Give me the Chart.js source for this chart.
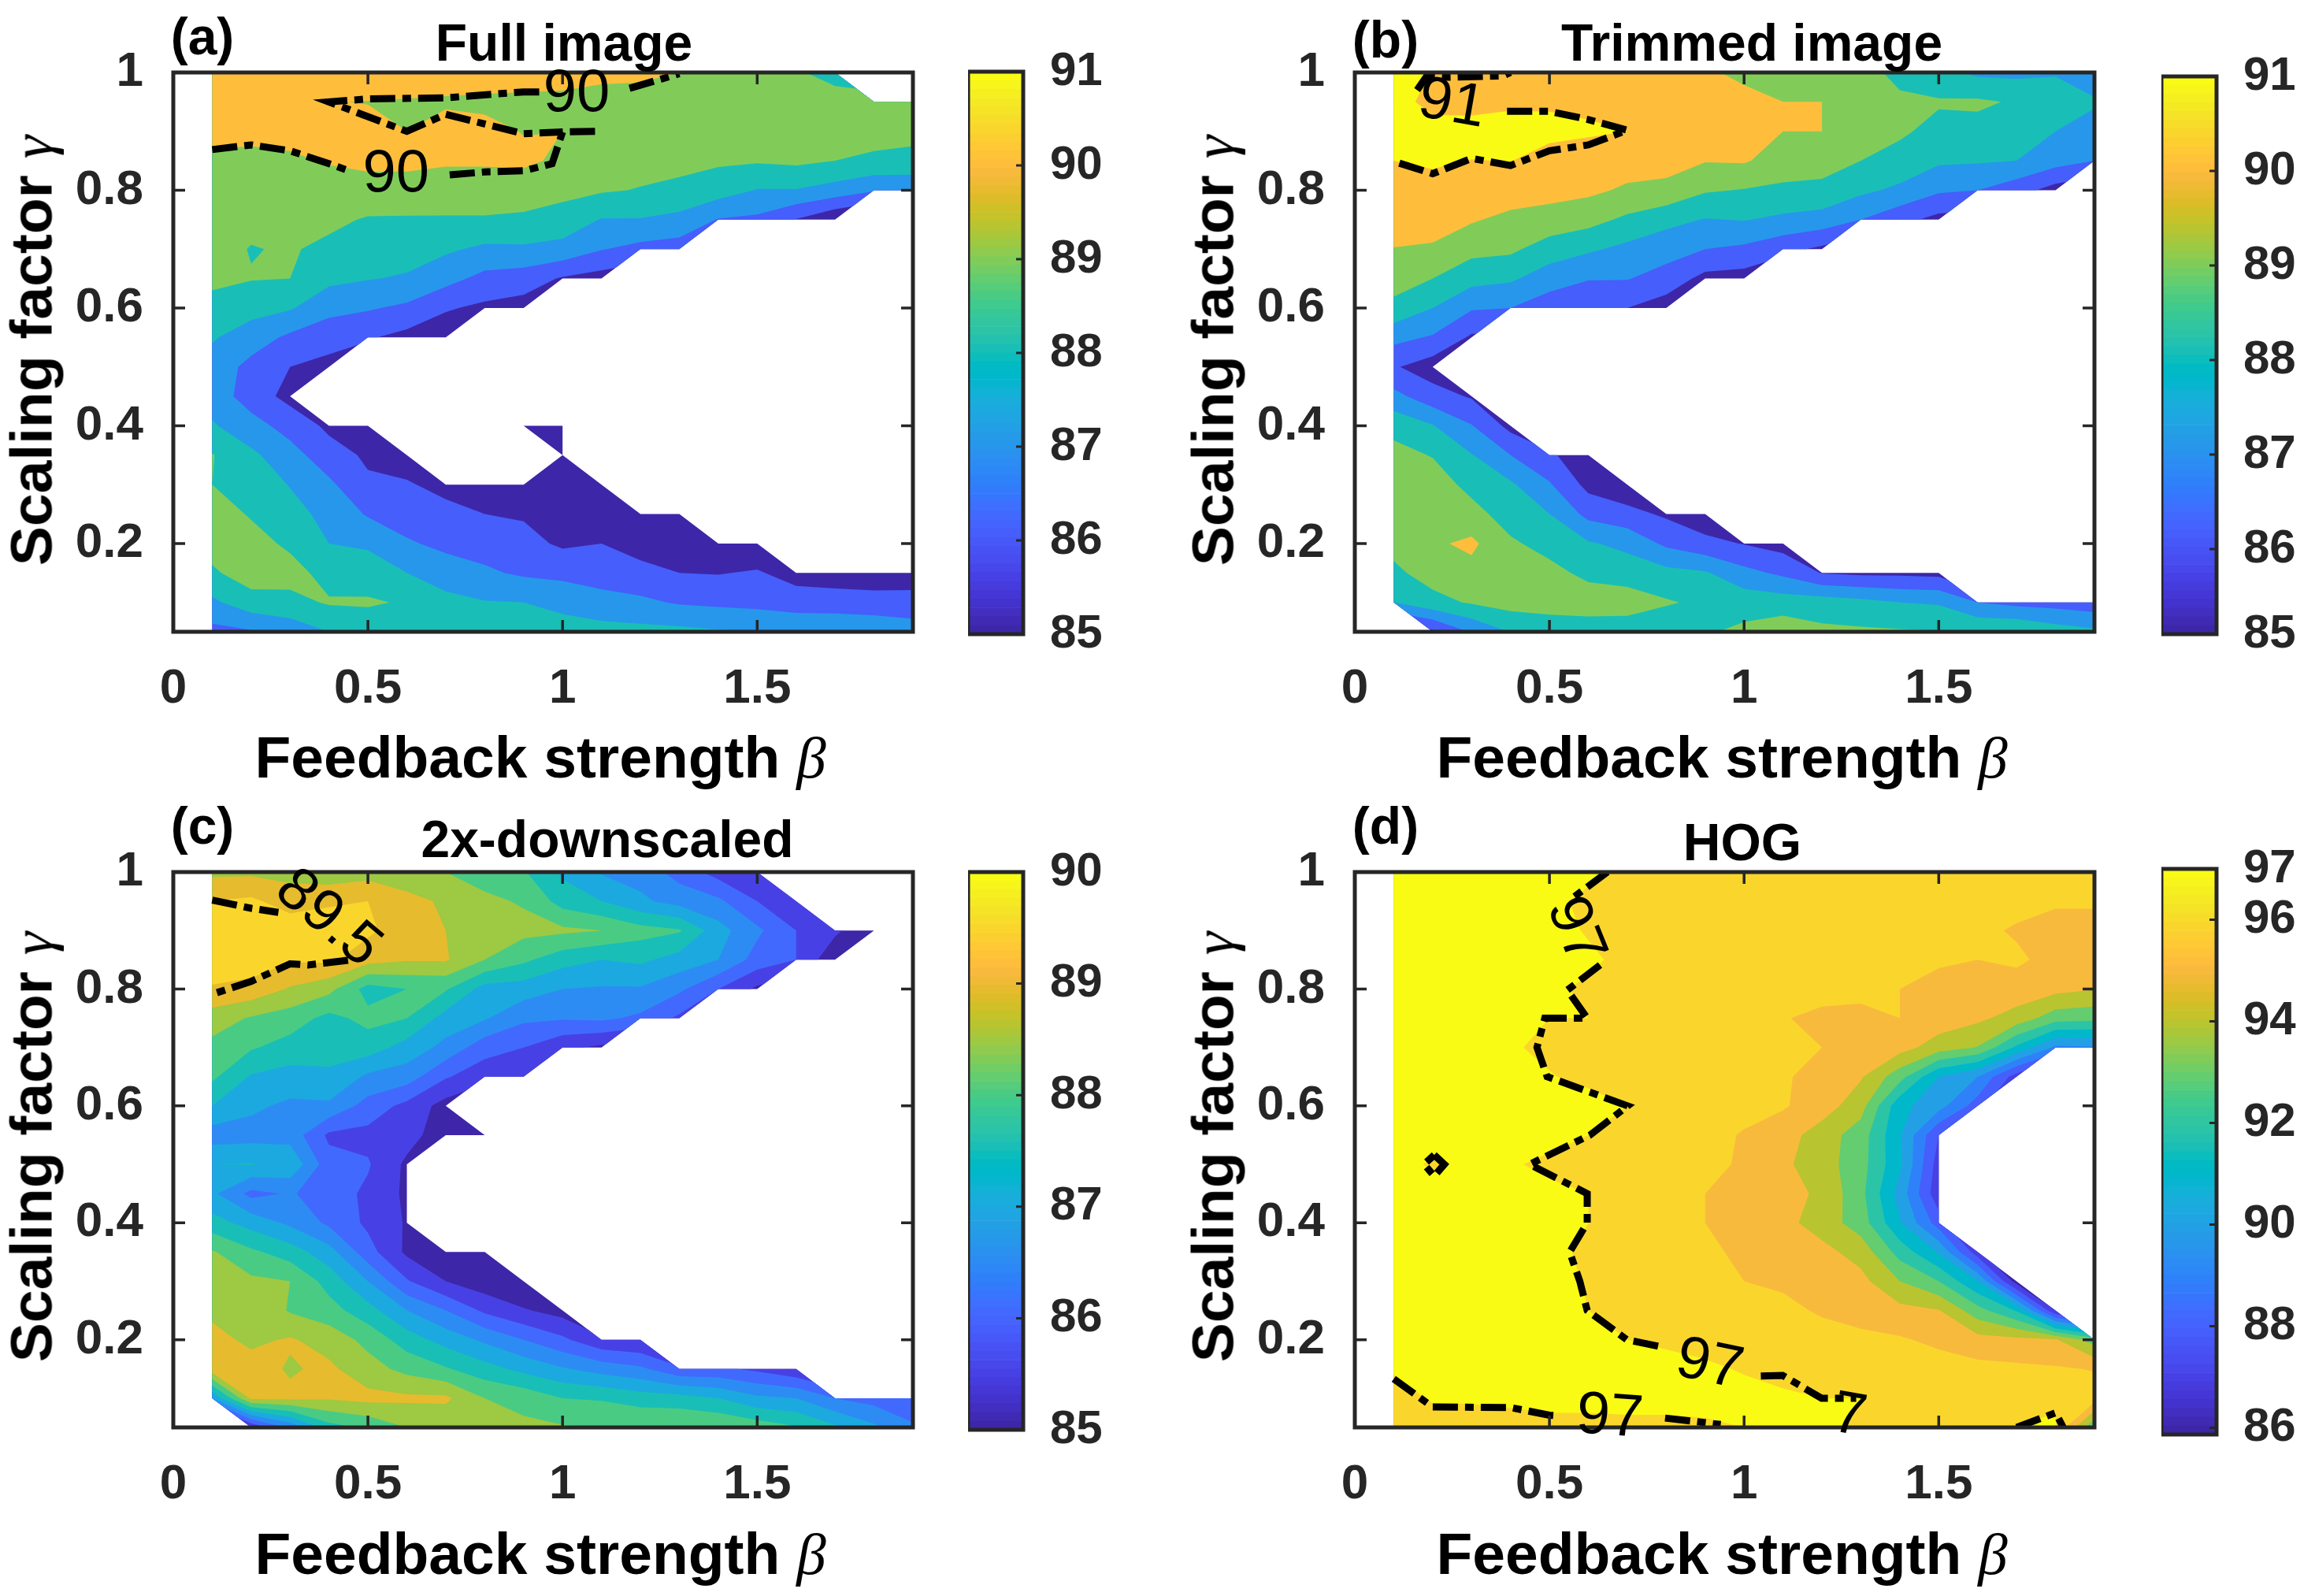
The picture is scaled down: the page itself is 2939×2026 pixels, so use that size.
<!DOCTYPE html>
<html>
<head>
<meta charset="utf-8">
<title>Contour panels</title>
<script src="https://cdn.jsdelivr.net/npm/chart.js@4"></script>
<style>
  html, body { margin: 0; padding: 0; background: #fff; }
  #page { position: relative; width: 2939px; height: 2026px; overflow: hidden; }
  #page canvas { position: absolute; }
  .txt { position: absolute; white-space: nowrap; line-height: 1; transform: translate(-50%, -50%);
         font-family: "Liberation Sans", Arial, sans-serif; font-weight: bold; }
  .txt i { font-family: "Liberation Serif", serif; font-weight: normal; }
</style>
</head>
<body>
<div id="page"></div>
<script>
// grid of the runs, rows go from gamma = 1 down to 0.05
const betaVals = [0.1,0.2,0.3,0.4,0.5,0.6,0.7,0.8,0.9,1,1.1,1.2,1.3,1.4,1.5,1.6,1.7,1.8,1.9];
const gammaVals = [1,0.95,0.9,0.85,0.8,0.75,0.7,0.65,0.6,0.55,0.5,0.45,0.4,0.35,0.3,0.25,0.2,0.15,0.1,0.05];
const _ = null;

const fullImage = [
  [90.6,90.7,90.8,90.6,90.5,90.4,90.4,90.4,90.4,90.4,90.2,90.2,90.0,89.6,89.5,89.1,88.7],
  [90.4,90.5,90.6,90.02,89.98,89.95,89.9,89.85,89.8,89.75,89.7,89.6,89.5,89.4,89.4,89.5,89.35,89.25,89.2],
  [90.15,90.15,90.2,90.3,90.2,90.0,90.3,90.2,89.97,90.0,89.99,89.55,89.5,89.4,89.3,89.4,89.35,89.3,89.2],
  [89.9,89.85,89.9,90.05,90.15,90.2,90.1,90.1,90.15,89.85,89.65,89.35,89.25,89.15,89.1,89.2,89.0,88.85,88.8],
  [89.7,89.6,89.65,89.7,89.75,89.65,89.6,89.6,89.55,89.3,89.1,88.95,88.8,88.45,87.95,87.95,87.6,87.1,87.1],
  [89.5,89.3,89.4,89.25,88.9,88.9,88.9,88.9,88.8,88.55,87.95,87.95,87.7,86.95,86.8,85.95,85.1],
  [89.4,88.95,89.1,88.75,88.5,88.4,88.15,87.8,87.85,87.7,87.05,86.7,86.55],
  [89.2,89.05,89.0,88.25,88.05,87.9,87.35,86.7,86.5,85.9,85.6],
  [88.7,88.35,88.1,87.3,87.1,86.8,86.1,85.8,85.6],
  [88.1,87.5,86.8,86.4,86.1,85.7,85.4],
  [87.6,86.7,86.0,85.7],
  [87.6,86.5,85.7],
  [88.1,87.4,86.6,85.8,85.6,_,_,_,85.4,85.3],
  [89.05,88.2,87.4,86.4,85.85,85.5,_,_,_,85.2],
  [89.0,88.6,87.95,87.2,86.15,86.1,85.7,85.6,85.3,85.3,85.2],
  [89.5,88.9,88.35,87.7,86.9,86.6,86.3,86.0,85.9,85.6,85.4,85.3,85.3],
  [89.4,89.4,88.8,88.0,87.85,87.1,86.8,86.6,86.3,85.85,86.0,85.6,85.5,85.3,85.2],
  [88.85,89.5,89.4,88.6,88.5,88.0,87.4,87.15,86.85,86.7,86.5,86.3,86.0,85.95,86.1,85.6,85.5,85.45,85.45],
  [87.8,88.6,88.7,89.1,89.12,88.9,88.35,88.05,88.0,87.8,87.4,87.2,86.9,86.8,86.7,86.5,86.45,86.37,86.4],
  [86.7,86.9,87.4,88.0,88.4,88.4,88.4,88.35,88.3,88.3,88.35,88.3,88.25,88.1,88.0,87.9,87.9,87.8,87.47]
];

const trimmedImage = [
  [91.6,90.95,90.8,90.9,90.9,90.8,90.6,90.3,90.1,89.85,89.65,89.5,89.2,88.85,88.3,87.8,87.75,87.9,87.5],
  [91.5,90.6,90.65,90.85,90.9,90.85,90.7,90.55,90.4,90.2,90,90,89.4,89.1,89.1,89.15,88.9,88.6,88.1],
  [91.5,91.5,91.4,91.35,91.2,91.1,91.0,90.8,90.6,90.3,90,90,89.4,89.15,88.7,88.7,88.6,88.0,87.65],
  [91.0,91.1,90.98,91.02,90.7,90.6,90.45,90.35,90.05,90.1,89.55,89.4,89.0,88.65,88.15,88.1,88.0,87.4,87.0],
  [90.7,90.75,90.6,90.5,90.3,90.2,89.85,89.75,89.1,88.95,88.8,88.75,88.2,87.8,87.15,87.0,86.4,85.6],
  [90.3,90.35,90.1,89.75,89.65,89.35,88.8,88.3,87.95,88.05,87.8,87.6,87.0,86.3,85.7],
  [89.98,89.9,89.3,89.2,88.5,88.15,87.75,87.4,87.0,86.8,86.3,85.8],
  [89.4,89.0,88.35,88.15,87.5,87.05,87.05,86.6,85.7,85.6],
  [88.75,88.0,87.1,87.0,86.4,86.3,86.0,85.5],
  [87.3,86.9,85.85],
  [86.1,85.5],
  [87.3,86.4,85.9],
  [88.7,88.05,87.05,85.7],
  [89.3,88.95,88.05,87.0,86.2,85.2],
  [89.5,89.5,88.7,88.15,87.1,85.7,85.3],
  [89.6,89.8,89.35,88.55,88.0,86.7,86.3,85.85,85.3],
  [89.3,89.85,90.2,89.15,88.65,88.1,87.75,86.8,86.3,85.95,85.6],
  [88.8,89.4,89.7,89.6,89.3,88.75,88.5,88.3,88.1,87.3,86.8,85.95,85.8,85.8,85.7],
  [88.0,88.7,89.1,89.4,89.5,89.55,89.55,89.1,88.8,88.6,88.5,88.5,88.3,88.0,87.9,87.0,86.7,86.6,86.4],
  [_,85.8,87.1,88.05,88.3,88.4,88.35,88.3,88.9,89.2,89.6,89.2,89.15,89.1,89.05,88.95,89.0,88.5,88.2]
];

const downscaled = [
  [88.9,88.9,88.85,88.7,88.8,88.6,88.5,88.3,88.05,87.4,86.95,86.8,86.3,85.8,85.5],
  [89.5,89.6,89.25,89.4,89.5,89.2,88.9,88.6,88.45,87.8,87.5,87.1,86.8,86.6,86.0,85.55],
  [89.9,89.95,89.85,89.9,89.6,89.2,89.0,88.75,88.65,88.6,88.5,88.2,88.05,87.2,86.6,86.0,85.6,85.05],
  [89.8,89.75,89.55,89.6,89.2,89.05,89.05,88.5,88.1,87.7,87.5,87.6,87.3,87.0,86.3,86.0,85.1],
  [89.45,89.35,88.95,88.65,87.8,88.0,88.05,87.3,87.25,87.0,86.95,86.95,86.6,86.0,85.4],
  [88.75,88.45,88.25,87.85,88.15,88.0,87.3,87.05,86.6,86.55,86.6,86.4,85.9],
  [88.35,88.05,87.8,87.6,87.75,87.3,86.85,86.2,86.0,85.6,85.4],
  [88.1,87.45,87.3,87.45,86.9,86.75,86.05,85.7,85.55],
  [87.5,87.1,86.9,86.9,86.3,85.85,85.3],
  [86.75,86.8,86.8,85.9,85.85,85.7,85.2,85.0],
  [87.5,87.52,87.4,86.2,86.05,85.4],
  [87.1,86.35,86.55,86.25,85.9,85.4],
  [87.7,87.3,86.9,86.4,85.9,85.45],
  [88.55,88.1,87.75,87.2,86.2,85.4,85.2,85.1],
  [88.7,88.6,88.5,87.8,87.0,86.05,85.5,85.2,85.0],
  [88.9,88.95,88.45,88.2,87.7,87.0,86.5,85.9,85.55,85.3],
  [89.15,88.9,89.05,88.8,88.35,87.75,87.3,86.9,86.5,86.1,85.6,85.5],
  [89.3,89.2,88.95,89.1,88.7,88.35,88.05,87.7,87.35,87.05,86.8,86.6,86.1,86.1,85.9,85.6],
  [87.0,89.1,89.1,89.05,89.15,89.1,89.1,88.5,88.35,88.0,87.95,87.75,87.7,87.5,87.1,87.0,86.5,86.3,86.0],
  [_,85.5,86.6,87.8,88.1,88.5,88.6,88.6,88.6,88.55,88.5,88.55,88.55,88.5,88.3,88.05,87.6,87.1,86.6]
];

const hog = [
  [97.5,97.6,97.6,97.5,97.3,97.1,96.9,96.8,96.7,96.7,96.7,96.6,96.6,96.6,96.5,96.5,96.5,96.5,96.4],
  [97.6,97.6,97.5,97.3,97.1,96.9,96.8,96.7,96.7,96.6,96.6,96.6,96.5,96.5,96.4,96.3,96.3,96.1,96.1],
  [97.6,97.6,97.5,97.4,97.2,96.95,96.8,96.7,96.7,96.6,96.6,96.5,96.5,96.4,96.3,96.2,95.9,95.7,95.7],
  [97.5,97.5,97.4,97.4,97.3,97.1,96.85,96.7,96.7,96.6,96.5,96.4,96.4,96.2,96.1,96.0,96.15,95.7,95.5],
  [97.5,97.5,97.4,97.4,97.1,96.9,96.7,96.6,96.5,96.5,96.4,96.3,96.2,96.0,95.75,95.7,95.6,95.3,95.05],
  [97.4,97.4,97.3,97.1,97.0,97.0,96.7,96.5,96.4,96.4,96.05,95.8,95.8,96.0,95.6,95.2,94.6,93.45,93.3],
  [97.4,97.3,97.2,97.1,96.8,96.6,96.5,96.4,96.3,96.2,96.1,96.0,95.7,95.4,94.5,93.95,91.8,89.8,89.9],
  [97.4,97.3,97.3,97.3,97.05,96.8,96.5,96.4,96.3,96.3,96.1,95.7,95.1,93.4,91.0,90.0,87.5],
  [97.4,97.4,97.4,97.4,97.5,97.3,97.0,96.6,96.4,96.2,96.1,95.5,94.4,91.3,90.4,88.5],
  [97.4,97.4,97.4,97.4,97.3,97.0,96.8,96.5,96.2,95.95,95.45,94.5,93.5,91.1,88.0],
  [97.3,96.9,97.2,97.1,96.8,96.6,96.5,96.3,96.2,95.9,95.2,94.45,93.4,91.2,87.5],
  [97.4,97.4,97.4,97.3,97.2,97.0,96.7,96.3,96.0,95.8,95.4,94.8,93.3,90.6,87.3],
  [97.4,97.4,97.4,97.3,97.2,97.0,96.8,96.4,96.0,95.7,95.3,94.55,93.5,91.1,88.5],
  [97.4,97.4,97.4,97.4,97.2,96.85,96.7,96.5,96.2,95.8,95.5,95.3,94.6,92.6,90.9,87.4],
  [97.4,97.4,97.4,97.4,97.2,96.95,96.8,96.6,96.4,96.0,95.8,95.7,95.3,94.0,93.0,91.0,86.5],
  [97.3,97.3,97.3,97.3,97.2,97.0,96.9,96.7,96.5,96.4,96.3,95.85,95.5,95.3,95.05,93.4,91.9,87.0],
  [97.3,97.3,97.3,97.3,97.2,97.1,97.0,96.9,96.8,96.7,96.6,96.5,96.3,96.1,95.8,95.35,95.25,95.1,93.5],
  [97.1,97.5,97.5,97.5,97.4,97.4,97.3,97.2,97.1,96.95,96.8,96.7,96.6,96.5,96.4,96.3,96.2,96.1,95.95],
  [96.6,97.1,97.1,97.15,97.2,97.2,97.2,97.2,97.2,97.2,97.1,97.0,97.0,96.8,96.7,96.7,96.8,96.95,96.5],
  [96.2,96.5,96.6,96.7,96.8,96.8,96.85,96.85,96.9,97.0,97.1,97.1,96.9,96.8,96.8,96.9,97.0,97.05,93.0]
];

// contour levels of each panel
const levelsA = [85,86,87,88,89,90,91];
const levelsB = [85,86,87,88,89,90,91];
const levelsC = [85,85.5,86,86.5,87,87.5,88,88.5,89,89.5,90];
const levelsD = [86,87,88,89,90,91,92,93,94,95,96,97];

// colorbar ticks, the lowest one of b sits a bit off the round value
const cbarTicksA = [85,86,87,88,89,90,91];
const cbarTicksB = [85.1,86,87,88,89,90,91];
const cbarTicksC = [85,86,87,88,89,90];
const cbarTicksD = [86,88,90,92,94,96,97];

const xTicks = [0,0.5,1,1.5];
const yTicks = [0.2,0.4,0.6,0.8,1];

// dash-dot contour lines, pieces are broken where the labels sit
const linesA = [
  [[0.1,0.869],[0.2,0.877],[0.3,0.867],[0.4,0.845],[0.443,0.835]],
  [[0.71,0.826],[0.8,0.831],[0.9,0.833],[0.973,0.845],[1,0.899],[1.1,0.9]],
  [[0.94,0.967],[0.9,0.967],[0.7,0.957],[0.5,0.955],[0.4,0.95],[0.6,0.9],[0.7,0.929],[0.9,0.896],[1,0.899]],
  [[1.172,0.973],[1.3,0.998]]
];
const linesB = [
  [[0.16,0.97],[0.185,0.994],[0.24,0.992],[0.38,0.994],[0.4,1]],
  [[0.391,0.934],[0.5,0.934],[0.6,0.92],[0.7,0.902],[0.6,0.877],[0.5,0.867],[0.4,0.842],[0.3,0.854],[0.2,0.828],[0.1,0.849]]
];
const linesC = [
  [[0.1,0.952],[0.2,0.938],[0.27,0.931]],
  [[0.449,0.849],[0.346,0.841],[0.3,0.843],[0.2,0.813],[0.1,0.791]]
];
const linesD = [
  [[0.649,1],[0.552,0.952]],
  [[0.63,0.841],[0.546,0.798],[0.597,0.75],[0.488,0.75],[0.468,0.7],[0.494,0.65],[0.701,0.6],[0.604,0.55],[0.449,0.5],[0.597,0.45],[0.597,0.4],[0.552,0.35],[0.578,0.3],[0.597,0.25],[0.699,0.2],[0.785,0.188]],
  [[1.043,0.138],[1.099,0.139],[1.199,0.1],[1.288,0.1]],
  [[0.1,0.133],[0.2,0.085],[0.4,0.084],[0.5,0.071],[0.52,0.07]],
  [[0.797,0.066],[0.94,0.055]],
  [[1.7,0.05],[1.8,0.075],[1.82,0.05]],
  [[0.204,0.516],[0.23,0.5],[0.204,0.48],[0.178,0.5],[0.204,0.516]]
];

// contour label text, beta, gamma, rotation in degrees
const labelsA = [['90',1.036,0.962,0],['90',0.572,0.826,0]];
const labelsB = [['91',0.249,0.945,10]];
const labelsC = [['89.5',0.397,0.92,40]];
const labelsD = [['97',0.565,0.899,68],['97',0.911,0.156,12],['97',0.655,0.066,4],['7',1.27,0.068,10]];

// parula, 64 steps
const parula = [
  [.2422,.1504,.6603],[.2504,.1650,.7076],[.2578,.1818,.7511],[.2647,.1978,.7952],[.2706,.2147,.8364],[.2751,.2342,.8710],[.2783,.2559,.8991],[.2803,.2782,.9221],
  [.2813,.3006,.9414],[.2810,.3228,.9579],[.2795,.3447,.9717],[.2760,.3667,.9829],[.2699,.3892,.9906],[.2602,.4123,.9952],[.2440,.4358,.9988],[.2206,.4603,.9973],
  [.1963,.4847,.9892],[.1834,.5074,.9798],[.1786,.5289,.9682],[.1764,.5499,.9520],[.1687,.5703,.9359],[.1540,.5902,.9218],[.1460,.6091,.9079],[.1380,.6276,.8973],
  [.1248,.6459,.8883],[.1113,.6635,.8763],[.0952,.6798,.8598],[.0689,.6948,.8394],[.0297,.7082,.8163],[.0036,.7203,.7917],[.0067,.7312,.7660],[.0433,.7411,.7394],
  [.0964,.7500,.7120],[.1408,.7584,.6842],[.1717,.7670,.6554],[.1938,.7758,.6251],[.2161,.7843,.5923],[.2470,.7918,.5567],[.2906,.7973,.5188],[.3406,.8008,.4789],
  [.3909,.8029,.4354],[.4456,.8024,.3909],[.5044,.7993,.3480],[.5616,.7942,.3045],[.6174,.7876,.2612],[.6720,.7793,.2227],[.7242,.7698,.1910],[.7738,.7598,.1646],
  [.8203,.7498,.1535],[.8634,.7406,.1596],[.9035,.7330,.1774],[.9393,.7288,.2100],[.9728,.7298,.2394],[.9956,.7434,.2371],[.9970,.7659,.2199],[.9952,.7893,.2028],
  [.9892,.8136,.1885],[.9786,.8386,.1766],[.9676,.8639,.1643],[.9610,.8890,.1537],[.9597,.9135,.1423],[.9628,.9373,.1265],[.9691,.9606,.1064],[.9769,.9839,.0805]
];

const AXIS = '#262626';
const FONT = '"Liberation Sans", Arial, sans-serif';
const page = document.getElementById('page');

function parulaColor(i) {
  const c = parula[i];
  return 'rgb(' + c.map(v => Math.round(v * 255)).join(',') + ')';
}

// cut a polygon down to the part where value >= level
function clipPoly(poly, level) {
  const out = [];
  for (let i = 0; i < poly.length; i++) {
    const a = poly[i], b = poly[(i + 1) % poly.length];
    if (a[2] >= level) out.push(a);
    if ((a[2] >= level) !== (b[2] >= level)) {
      const t = (level - a[2]) / (b[2] - a[2]);
      out.push([a[0] + t * (b[0] - a[0]), a[1] + t * (b[1] - a[1]), level]);
    }
  }
  return out;
}

// filled contours, each level painted over the one below
function contourPlugin(grid, levels) {
  return {
    id: 'contourFill',
    beforeDatasetsDraw(chart) {
      const ctx = chart.ctx, sx = chart.scales.x, sy = chart.scales.y;
      const lo = levels[0], hi = levels[levels.length - 1];
      ctx.save();
      ctx.beginPath();
      ctx.rect(chart.chartArea.left, chart.chartArea.top, chart.chartArea.width, chart.chartArea.height);
      ctx.clip();
      levels.forEach((level, k) => {
        ctx.beginPath();
        for (let r = 0; r < gammaVals.length - 1; r++) {
          for (let c = 0; c < betaVals.length - 1; c++) {
            const corners = [[c, r], [c + 1, r], [c + 1, r + 1], [c, r + 1]];
            let poly = [];
            corners.forEach(p => {
              const v = grid[p[1]][p[0]];
              if (v !== null && v !== undefined) poly.push([sx.getPixelForValue(betaVals[p[0]]), sy.getPixelForValue(gammaVals[p[1]]), v]);
            });
            if (poly.length < 3) continue;
            if (k > 0) poly = clipPoly(poly, level);
            if (poly.length < 3) continue;
            poly.forEach((p, i) => i ? ctx.lineTo(p[0], p[1]) : ctx.moveTo(p[0], p[1]));
            ctx.closePath();
          }
        }
        ctx.fillStyle = parulaColor(Math.round((level - lo) / (hi - lo) * 63));
        ctx.fill();
      });
      ctx.restore();
    }
  };
}

// box and inward ticks
function framePlugin(both, tickLen) {
  return {
    id: 'frame',
    afterDatasetsDraw(chart) {
      const ctx = chart.ctx, a = chart.chartArea, sx = chart.scales.x, sy = chart.scales.y;
      ctx.save();
      ctx.strokeStyle = AXIS;
      ctx.lineWidth = both ? 3.5 : 3;
      ctx.beginPath();
      if (both) {
        sx.ticks.forEach(t => {
          const p = sx.getPixelForValue(t.value);
          ctx.moveTo(p, a.bottom); ctx.lineTo(p, a.bottom - tickLen);
          ctx.moveTo(p, a.top); ctx.lineTo(p, a.top + tickLen);
        });
      }
      sy.ticks.forEach(t => {
        const p = sy.getPixelForValue(t.value);
        if (both) { ctx.moveTo(a.left, p); ctx.lineTo(a.left + tickLen, p); }
        ctx.moveTo(a.right, p); ctx.lineTo(a.right - tickLen, p);
      });
      ctx.stroke();
      ctx.lineWidth = 5;
      ctx.strokeRect(a.left, a.top, a.width, a.height);
      ctx.restore();
    }
  };
}

function labelPlugin(labels) {
  return {
    id: 'contourLabels',
    afterDraw(chart) {
      const ctx = chart.ctx;
      ctx.save();
      ctx.fillStyle = '#000';
      ctx.font = '76px ' + FONT;
      ctx.textAlign = 'center';
      ctx.textBaseline = 'middle';
      labels.forEach(l => {
        ctx.save();
        ctx.translate(chart.scales.x.getPixelForValue(l[1]), chart.scales.y.getPixelForValue(l[2]));
        ctx.rotate(l[3] * Math.PI / 180);
        ctx.fillText(l[0], 0, 0);
        ctx.restore();
      });
      ctx.restore();
    }
  };
}

// labels may hang over the plot edge, keep the plot area where it is put
function noLabelPadding(s) {
  s.paddingTop = 0; s.paddingBottom = 0; s.paddingLeft = 0; s.paddingRight = 0;
}

function addCanvas(x, y, w, h) {
  const cv = document.createElement('canvas');
  cv.width = w; cv.height = h;
  cv.style.left = x + 'px'; cv.style.top = y + 'px';
  cv.style.width = w + 'px'; cv.style.height = h + 'px';
  page.appendChild(cv);
  return cv;
}

function addText(html, x, y, size, extra) {
  const d = document.createElement('div');
  d.className = 'txt';
  d.innerHTML = html;
  d.style.left = x + 'px'; d.style.top = y + 'px';
  d.style.fontSize = size + 'px';
  if (extra) d.style.transform = extra;
  page.appendChild(d);
}

function makePanel(left, top, width, height, grid, levels, lines, labels) {
  const m = { l: 140, r: 40, t: 40, b: 100 };
  const cv = addCanvas(left - m.l, top - m.t, width + m.l + m.r, height + m.t + m.b);
  new Chart(cv, {
    type: 'scatter',
    data: {
      datasets: lines.map(line => ({
        data: line.map(p => ({ x: p[0], y: p[1] })),
        showLine: true,
        borderColor: '#000',
        borderWidth: 9,
        borderDash: [32, 9, 11, 9],
        borderCapStyle: 'butt',
        borderJoinStyle: 'miter',
        pointRadius: 0,
        tension: 0
      }))
    },
    options: {
      responsive: false,
      animation: false,
      devicePixelRatio: 1,
      layout: { padding: { left: 0, right: m.r, top: m.t, bottom: 0 } },
      plugins: { legend: { display: false }, tooltip: { enabled: false } },
      scales: {
        x: {
          type: 'linear', min: 0, max: 1.9,
          grid: { display: false }, border: { display: false },
          afterBuildTicks: s => { s.ticks = xTicks.map(v => ({ value: v })); },
          afterFit: s => { s.height = m.b; noLabelPadding(s); },
          ticks: { color: AXIS, font: { family: FONT, size: 62, weight: 'bold' }, padding: 28, maxRotation: 0, callback: v => String(v) }
        },
        y: {
          type: 'linear', min: 0.05, max: 1,
          grid: { display: false }, border: { display: false },
          afterBuildTicks: s => { s.ticks = yTicks.map(v => ({ value: v })); },
          afterFit: s => { s.width = m.l; noLabelPadding(s); },
          ticks: { color: AXIS, font: { family: FONT, size: 62, weight: 'bold' }, padding: 30, callback: v => String(v) }
        }
      }
    },
    plugins: [contourPlugin(grid, levels), framePlugin(true, 15), labelPlugin(labels)]
  });
}

function makeColorbar(left, top, width, height, lo, hi, ticks) {
  const right = 140;
  const cv = addCanvas(left, top - 40, width + right, height + 80);
  const step = (hi - lo) / parula.length;
  new Chart(cv, {
    type: 'bar',
    data: {
      labels: ['bar'],
      datasets: parula.map((c, i) => ({
        data: [[lo + i * step, lo + (i + 1) * step]],
        backgroundColor: parulaColor(i),
        borderWidth: 0,
        grouped: false,
        barPercentage: 1,
        categoryPercentage: 1
      }))
    },
    options: {
      responsive: false,
      animation: false,
      devicePixelRatio: 1,
      layout: { padding: { left: 0, right: 0, top: 40, bottom: 40 } },
      plugins: { legend: { display: false }, tooltip: { enabled: false } },
      scales: {
        x: { display: false },
        y: {
          type: 'linear', position: 'right', min: lo, max: hi,
          grid: { display: false }, border: { display: false },
          afterBuildTicks: s => { s.ticks = ticks.map(v => ({ value: v })); },
          afterFit: s => { s.width = right; noLabelPadding(s); },
          ticks: { color: AXIS, font: { family: FONT, size: 60, weight: 'bold' }, padding: 26, callback: v => String(Math.round(v)) }
        }
      }
    },
    plugins: [framePlugin(false, 9)]
  });
}

const W = 939;
makePanel(220, 92, W, 710, fullImage, levelsA, linesA, labelsA);
makePanel(1720, 92, W, 710, trimmedImage, levelsB, linesB, labelsB);
makePanel(220, 1107, W, 705, downscaled, levelsC, linesC, labelsC);
makePanel(1720, 1107, W, 705, hog, levelsD, linesD, labelsD);

makeColorbar(1229, 91, 70, 714, 85, 91, cbarTicksA);
makeColorbar(2744, 97, 70, 708, 85.1, 91, cbarTicksB);
makeColorbar(1229, 1107, 70, 708, 85, 90, cbarTicksC);
makeColorbar(2744, 1103, 70, 718, 85.87, 97, cbarTicksD);

// panel letters and titles
addText('(a)', 257, 46, 66);
addText('(b)', 1759, 50, 66);
addText('(c)', 257, 1048, 66);
addText('(d)', 1759, 1048, 66);
addText('Full image', 716, 54, 66);
addText('Trimmed image', 2224, 54, 66);
addText('2x-downscaled', 771, 1065, 66);
addText('HOG', 2212, 1069, 66);

// axis titles, the greek letters need another face
const xName = 'Feedback strength&nbsp;<i>&beta;</i>';
const yName = 'Scaling factor&nbsp;<i>&gamma;</i>';
const rot = 'translate(-50%, -50%) rotate(-90deg)';
addText(xName, 686, 961, 75);
addText(xName, 2186, 961, 75);
addText(xName, 686, 1972, 75);
addText(xName, 2186, 1972, 75);
addText(yName, 40, 445, 75, rot);
addText(yName, 1540, 445, 75, rot);
addText(yName, 40, 1456, 75, rot);
addText(yName, 1540, 1456, 75, rot);
</script>
</body>
</html>
